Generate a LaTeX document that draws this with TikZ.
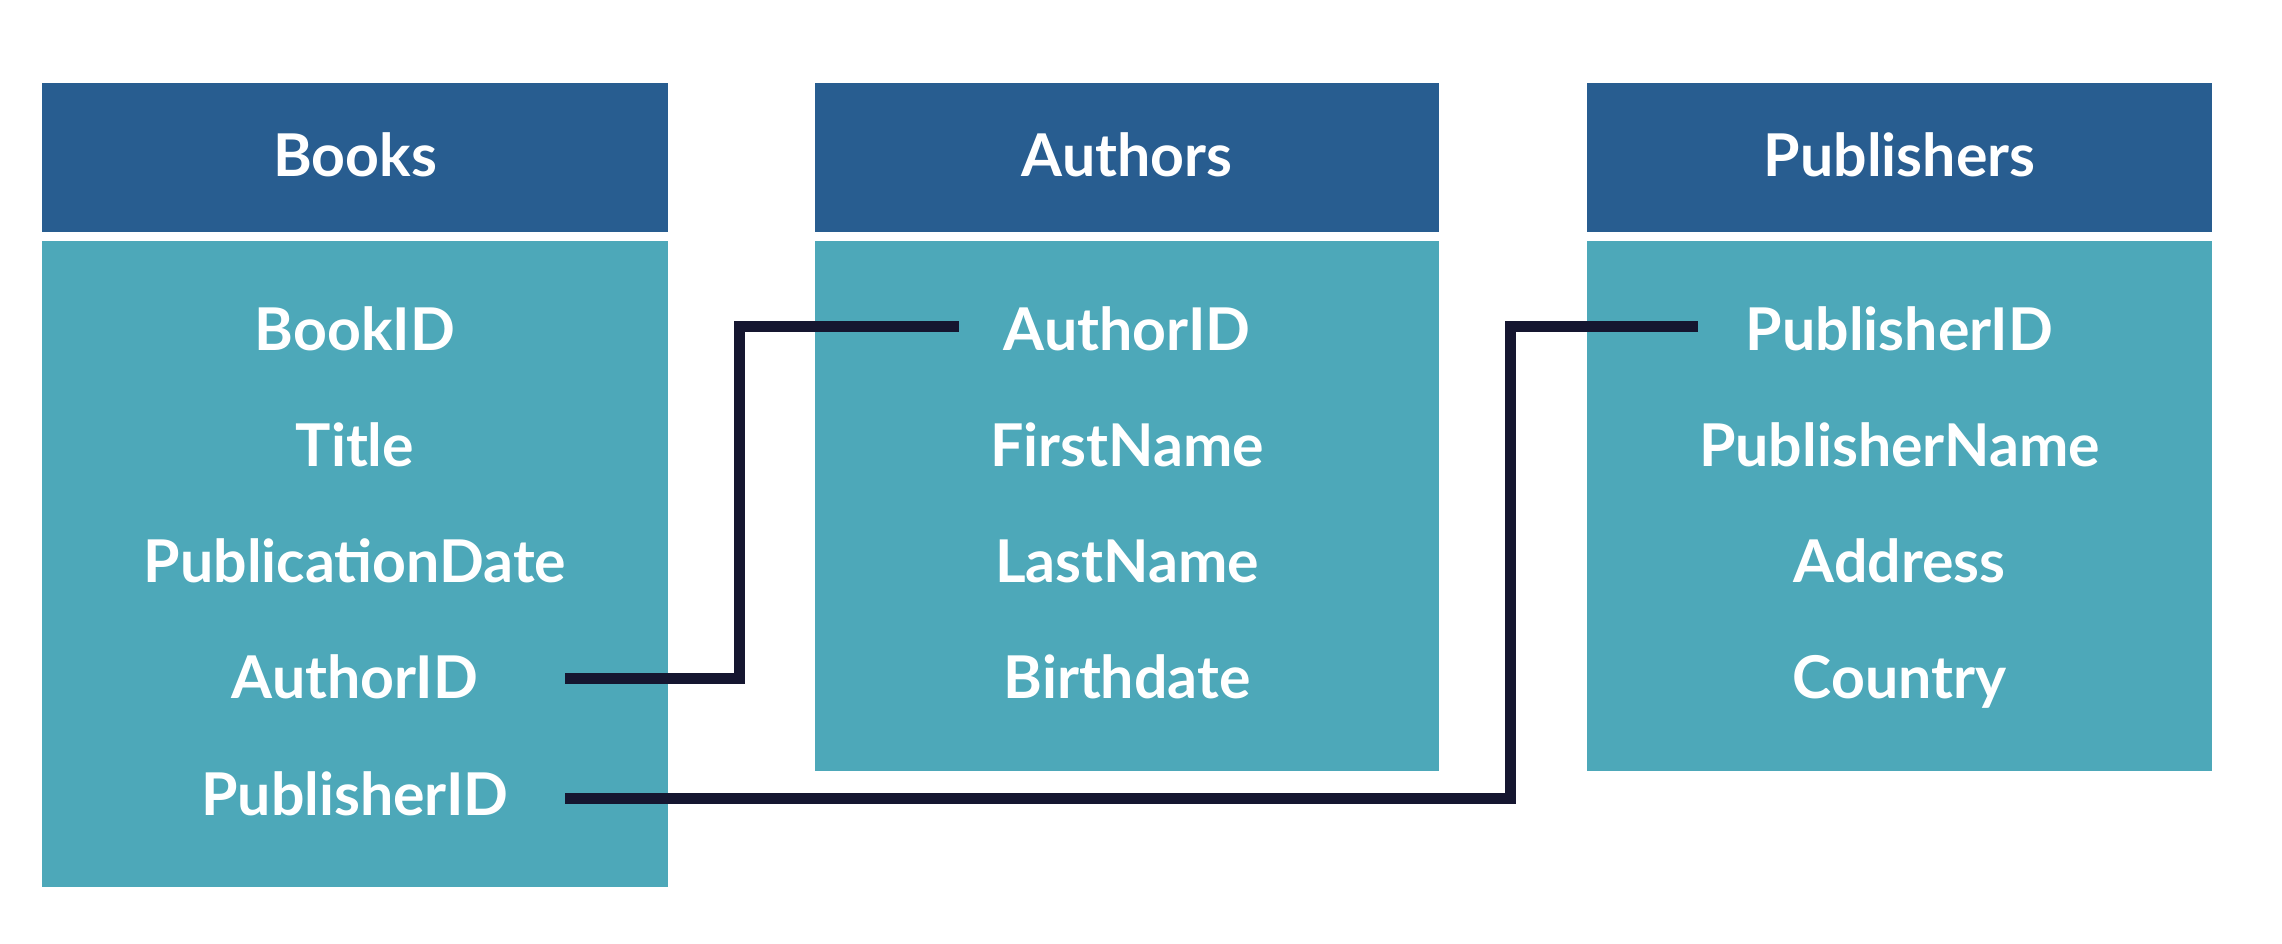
\documentclass[tikz,border=0pt]{standalone}
\usepackage{fontspec}
\setmainfont{Lato}
\definecolor{hdrblue}{RGB}{40,93,144}
\definecolor{bodyteal}{RGB}{77,168,185}
\definecolor{linkcol}{RGB}{21,22,48}
\begin{document}
\begin{tikzpicture}[x=1pt,y=-1pt,
  hdr/.style={fill=hdrblue,draw=none},
  body/.style={fill=bodyteal,draw=none},
  lbl/.style={text=white,font=\fontsize{59}{66}\selectfont\bfseries,anchor=base,inner sep=0pt},
  link/.style={draw=linkcol,line width=11pt,line cap=butt,line join=miter}]
\useasboundingbox[fill=white] (0,0) rectangle (2282,944);
% Books
\path[hdr] (42,83) rectangle (668,232);
\path[body] (42,241) rectangle (668,887);
\node[lbl] (bkHead) at (355,177) {Books};
\node[lbl] (bkID) at (355,350) {BookID};
\node[lbl] (bkTitle) at (355,466) {Title};
\node[lbl] (bkDate) at (355,582) {PublicationDate};
\node[lbl] (bkAuth) at (355,698) {AuthorID};
\node[lbl] (bkPub) at (355,815) {PublisherID};
% Authors
\path[hdr] (815,83) rectangle (1439,232);
\path[body] (815,241) rectangle (1439,771);
\node[lbl] (auHead) at (1127,177) {Authors};
\node[lbl] (auID) at (1127,350) {AuthorID};
\node[lbl] (auFirst) at (1127,466) {FirstName};
\node[lbl] (auLast) at (1127,582) {LastName};
\node[lbl] (auBirth) at (1127,698) {Birthdate};
% Publishers
\path[hdr] (1587,83) rectangle (2212,232);
\path[body] (1587,241) rectangle (2212,771);
\node[lbl] (puHead) at (1899.5,177) {Publishers};
\node[lbl] (puID) at (1899.5,350) {PublisherID};
\node[lbl] (puName) at (1899.5,466) {PublisherName};
\node[lbl] (puAddr) at (1899.5,582) {Address};
\node[lbl] (puCountry) at (1899.5,698) {Country};
% connector end points
\coordinate (s1) at (565,678);
\coordinate (e1) at (959,326);
\coordinate (s2) at (565,798);
\coordinate (e2) at (1698,326);
\draw[link] (s1) -- (739,678) |- (e1);
\draw[link] (s2) -- (1510,798) |- (e2);
\end{tikzpicture}
\end{document}
